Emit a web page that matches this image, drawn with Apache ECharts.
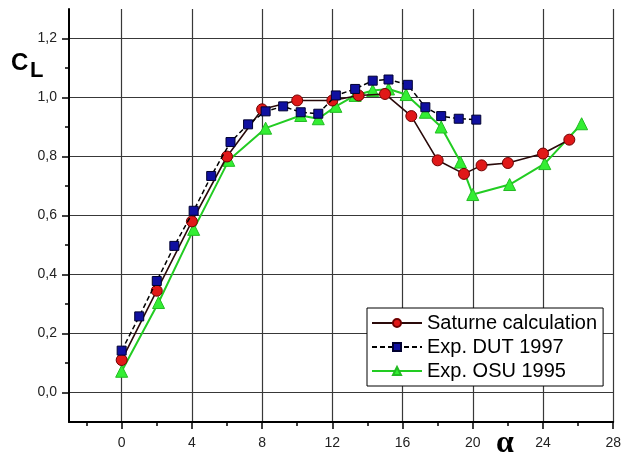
<!DOCTYPE html>
<html>
<head>
<meta charset="utf-8">
<script src="https://cdn.jsdelivr.net/npm/echarts@6/dist/echarts.min.js"></script>
<style>html,body{margin:0;padding:0;background:#fff}#c{width:624px;height:461px}</style>
</head>
<body>
<div id="c"></div>
<script>
// ---- data ----
const alphaSat = [0, 2, 4, 6, 8, 10, 12, 13.5, 15, 16.5, 18, 19.5, 20.5, 22, 24, 25.5];
const clSat    = [0.11, 0.345, 0.58, 0.80, 0.96, 0.99, 0.99, 1.007, 1.012, 0.937, 0.787, 0.741, 0.77, 0.778, 0.81, 0.857];

const alphaDut = [0, 1, 2, 3, 4.1, 5.1, 6.2, 7.2, 8.2, 9.2, 10.2, 11.2, 12.2, 13.3, 14.3, 15.2, 16.3, 17.3, 18.2, 19.2, 20.2];
const clDut    = [0.142, 0.258, 0.378, 0.497, 0.616, 0.734, 0.849, 0.909, 0.953, 0.97, 0.95, 0.945, 1.007, 1.029, 1.057, 1.061, 1.043, 0.967, 0.937, 0.928, 0.925];

const alphaOsu = [0, 2.1, 4.1, 6.1, 8.2, 10.2, 11.2, 12.2, 13.3, 14.3, 15.2, 16.2, 17.3, 18.2, 19.3, 20, 22.1, 24.1, 26.2];
const clOsu    = [0.072, 0.305, 0.553, 0.787, 0.896, 0.939, 0.928, 0.97, 1.007, 1.024, 1.029, 1.01, 0.95, 0.9, 0.781, 0.671, 0.705, 0.776, 0.911];

const xMajorTicks = [0, 4, 8, 12, 16, 20, 24, 28];
const xMinorTicks = [-2, 2, 6, 10, 14, 18, 22, 26];
const yMajorTicks = [0, 0.2, 0.4, 0.6, 0.8, 1.0, 1.2];
const yMinorTicks = [0.1, 0.3, 0.5, 0.7, 0.9, 1.1];

const seriesNames = ['Saturne calculation', 'Exp. DUT 1997', 'Exp. OSU 1995'];

const zip = (a, b) => a.map((v, i) => [v, b[i]]);
const font = 'Liberation Sans, Arial, sans-serif';

const chart = echarts.init(document.getElementById('c'), null, {renderer: 'canvas'});
const grid = {left: 69, right: 9, top: 9, bottom: 39};

chart.setOption({
  animation: false,
  backgroundColor: '#fff',
  grid: grid,
  xAxis: [{
    type: 'value', min: -3, max: 28,
    axisLine: {show: true, onZero: false, lineStyle: {color: '#000', width: 2}},
    axisTick: {show: true, inside: false, length: 7, customValues: xMajorTicks, lineStyle: {color: '#000', width: 1.5}},
    axisLabel: {customValues: xMajorTicks, color: '#222', fontSize: 14, fontFamily: font, margin: 14},
    splitLine: {show: true, lineStyle: {color: '#383838', width: 1.2}}
  }, {
    type: 'value', min: -3, max: 28, position: 'bottom',
    axisLine: {show: false, onZero: false},
    axisTick: {show: true, inside: false, length: 4, customValues: xMinorTicks, lineStyle: {color: '#000', width: 1.5}},
    axisLabel: {show: false},
    splitLine: {show: false}
  }],
  yAxis: [{
    type: 'value', min: -0.1, max: 1.3,
    axisLine: {show: true, onZero: false, lineStyle: {color: '#000', width: 2}},
    axisTick: {show: true, inside: false, length: 7, customValues: yMajorTicks, lineStyle: {color: '#000', width: 1.5}},
    axisLabel: {customValues: yMajorTicks, color: '#222', fontSize: 14, fontFamily: font, margin: 12,
      formatter: v => v.toFixed(1).replace('.', ',')},
    splitLine: {show: true, lineStyle: {color: '#383838', width: 1.2}}
  }, {
    type: 'value', min: -0.1, max: 1.3, position: 'left',
    axisLine: {show: false, onZero: false},
    axisTick: {show: true, inside: false, length: 4, customValues: yMinorTicks, lineStyle: {color: '#000', width: 1.5}},
    axisLabel: {show: false},
    splitLine: {show: false}
  }],
  legend: {
    data: seriesNames,
    orient: 'vertical',
    left: 367, top: 308,
    backgroundColor: '#fff',
    borderColor: '#000', borderWidth: 1,
    padding: [4, 6, 4, 4],
    itemWidth: 50, itemHeight: 10, itemGap: 2,
    textStyle: {fontSize: 20, fontFamily: font, color: '#000', lineHeight: 22}
  },
  graphic: [
    {type: 'text', left: 11, top: 51, style: {text: 'C', font: 'bold 24px ' + font, fill: '#000'}},
    {type: 'text', left: 30, top: 60, style: {text: 'L', font: 'bold 22px ' + font, fill: '#000'}},
    {type: 'text', left: 496, top: 428, style: {text: 'α', font: 'bold 32px "Liberation Serif", "DejaVu Serif", serif', fill: '#000'}}
  ],
  series: [{
    name: seriesNames[2], type: 'line', z: 2,
    data: zip(alphaOsu, clOsu),
    symbol: 'triangle', symbolSize: 12,
    lineStyle: {color: '#22cc22', width: 2},
    itemStyle: {color: '#33ee33', borderColor: '#22bb22', borderWidth: 1}
  }, {
    name: seriesNames[0], type: 'line', z: 3,
    data: zip(alphaSat, clSat),
    symbol: 'circle', symbolSize: 11,
    lineStyle: {color: '#2a0a0a', width: 1.6},
    itemStyle: {color: '#e01818', borderColor: '#700000', borderWidth: 1}
  }, {
    name: seriesNames[1], type: 'line', z: 4,
    data: zip(alphaDut, clDut),
    symbol: 'rect', symbolSize: 9,
    lineStyle: {color: '#000', width: 1.5, type: [5, 3]},
    itemStyle: {color: '#1010a0', borderColor: '#000030', borderWidth: 1}
  }]
});
</script>
</body>
</html>
